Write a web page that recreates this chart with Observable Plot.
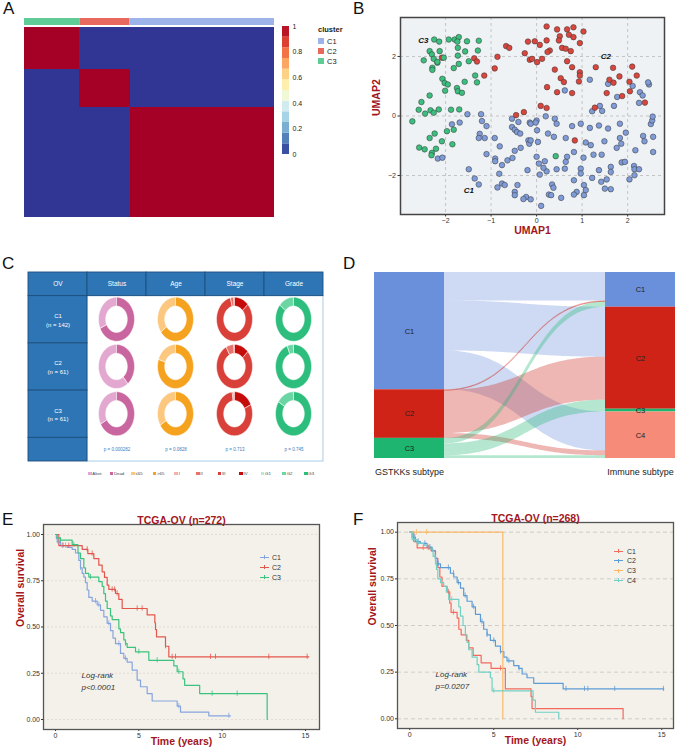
<!DOCTYPE html>
<html><head><meta charset="utf-8">
<script src="https://cdn.jsdelivr.net/npm/d3@7"></script>
<script src="https://cdn.jsdelivr.net/npm/@observablehq/plot@0.6"></script>
<style>
body{margin:0;background:#fff;font-family:"Liberation Sans",Arial,sans-serif;}
#root{position:relative;width:676px;height:750px;overflow:hidden;background:#fff;}
.plab{position:absolute;font-size:17px;line-height:17px;color:#111;}
</style></head><body><div id="root"></div>
<script>
// ================= DATA =================
// Panel A: consensus matrix (column / row order), cluster sizes
const hmClusters = ["C3", "C2", "C1"];
const hmSizes = [84, 76, 219];
const annotColors = ["#5FCB96", "#E8685E", "#9DB4EA"];
const legendClusters = ["C1", "C2", "C3"];
const legendClusterColors = ["#9DB4EA", "#E8685E", "#5FCB96"];
const colorbarTicks = [0, 0.2, 0.4, 0.6, 0.8, 1];

// Panel B: UMAP coordinates
const umapC3 = [[-2.25,2.57],[-2.14,2.50],[-1.93,2.57],[-1.80,2.57],[-1.71,2.65],[-1.74,2.50],[-1.53,2.51],[-1.27,2.53],[-2.35,2.18],[-2.13,2.18],[-2.30,2.07],[-2.26,1.92],[-2.04,1.96],[-2.18,1.79],[-2.48,1.87],[-2.29,1.62],[-2.29,1.55],[-1.73,2.29],[-1.57,2.17],[-1.29,2.20],[-1.73,2.03],[-1.49,1.84],[-1.71,1.75],[-1.82,1.61],[-1.35,1.36],[-1.31,1.13],[-1.58,1.15],[-2.07,1.25],[-2.02,1.11],[-1.95,1.06],[-2.01,0.85],[-1.75,0.94],[-1.73,0.83],[-1.64,0.78],[-2.35,0.69],[-2.53,0.47],[-2.59,0.21],[-2.45,0.08],[-2.33,0.19],[-2.26,0.11],[-2.15,0.22],[-1.88,0.21],[-1.70,0.22],[-2.73,-0.18],[-2.24,-0.59],[-2.35,-0.74],[-1.97,-0.51],[-1.82,-0.46],[-2.08,-0.85],[-1.85,-0.95],[-2.58,-1.06],[-2.46,-1.12],[-2.21,-1.10],[-2.30,-1.24],[-2.31,-1.32],[-2.18,1.82],[0.42,-1.35]];
const umapC2 = [[-1.37,1.94],[-1.31,1.83],[-2.08,1.96],[-1.15,1.36],[-0.92,1.60],[-0.86,1.99],[-0.67,2.35],[-0.60,2.29],[-0.26,2.11],[-0.19,2.50],[-0.45,0.03],[-0.28,0.13],[-0.15,1.89],[0.22,3.01],[0.45,2.91],[0.67,2.91],[0.81,2.98],[1.03,2.84],[0.51,2.68],[0.71,2.73],[0.81,2.65],[-0.04,2.51],[0.22,2.54],[0.49,2.54],[0.95,2.45],[0.07,2.39],[0.56,2.29],[0.64,2.26],[0.75,2.18],[0.29,2.20],[0.24,2.15],[0.12,1.92],[0.01,1.81],[-0.10,1.92],[0.67,1.84],[0.78,1.64],[0.40,1.56],[0.95,1.47],[0.95,1.36],[0.53,1.27],[0.60,1.14],[0.93,1.16],[0.23,0.97],[0.45,0.80],[0.78,0.77],[1.30,1.64],[1.68,1.62],[2.10,1.66],[2.20,1.36],[1.82,1.33],[1.60,1.22],[1.69,1.12],[2.04,1.15],[2.05,0.83],[1.88,0.67],[1.54,0.77],[1.28,0.28],[2.38,0.45],[0.09,0.34],[0.22,0.27],[0.84,-0.82]];
const umapC1 = [[-1.52,0.06],[-1.22,0.06],[-1.20,-0.17],[-1.10,-0.34],[-1.86,-0.28],[-1.69,-0.22],[-1.25,-0.60],[-1.27,-0.74],[-1.14,-0.74],[-0.92,-0.74],[-0.81,-1.02],[-1.10,-1.28],[-0.91,-1.43],[-0.91,-1.52],[-1.49,-1.79],[-2.17,-1.43],[-2.07,-1.40],[-1.36,-2.10],[-1.27,-2.30],[-0.82,-1.94],[-0.76,-1.65],[-0.64,-1.49],[-0.53,-1.41],[-0.48,-1.17],[-0.35,-1.07],[-0.20,-1.82],[-0.86,-2.40],[-0.76,-2.27],[-0.70,-2.32],[-0.48,-2.55],[-0.48,-2.66],[-0.42,-2.32],[-0.23,-2.72],[-0.29,-2.79],[-0.54,-0.09],[-0.54,-0.37],[-0.48,-0.46],[-0.43,-0.54],[-0.36,-0.59],[-0.40,-0.20],[-0.18,-0.82],[-0.16,-0.93],[-0.15,-0.22],[-0.13,-0.26],[0.00,-0.15],[0.20,-0.01],[0.40,-0.09],[0.44,-0.26],[-0.02,-0.22],[0.78,-0.34],[0.97,-0.26],[1.17,-0.40],[1.37,-0.32],[1.57,-0.42],[1.83,-0.26],[1.96,-0.56],[1.83,-0.74],[1.49,-0.85],[1.76,-1.07],[1.86,-0.93],[2.17,-1.15],[2.34,-0.67],[2.37,-0.85],[2.56,-1.21],[2.56,-0.70],[2.51,-0.27],[2.54,-0.15],[2.55,-0.02],[2.27,0.80],[2.33,0.69],[2.25,0.44],[2.47,1.06],[2.45,1.13],[2.11,1.01],[1.77,0.64],[1.70,0.34],[1.44,0.17],[1.39,0.34],[1.22,0.16],[1.57,1.08],[1.17,1.22],[0.62,0.86],[0.25,-0.59],[0.38,-0.70],[0.03,-0.87],[0.64,-0.74],[1.08,-0.89],[1.19,-0.98],[0.82,-1.21],[0.67,-1.37],[0.64,-1.54],[0.62,-1.77],[1.03,-1.40],[1.25,-1.30],[1.43,-1.30],[1.63,-1.71],[1.87,-1.56],[1.94,-1.54],[1.63,-1.88],[2.14,-1.68],[2.15,-1.79],[2.25,-1.79],[2.15,-1.99],[2.04,-2.13],[1.37,-1.82],[1.22,-2.08],[0.97,-1.77],[0.97,-1.93],[0.82,-2.16],[1.04,-2.32],[1.08,-2.49],[1.42,-2.21],[1.54,-2.13],[1.50,-2.44],[1.63,-2.46],[1.04,-2.66],[0.88,-2.55],[0.82,-2.64],[0.54,-2.75],[0.34,-2.30],[0.37,-2.41],[0.27,-2.64],[0.32,-2.66],[0.10,-3.02],[0.44,-1.79],[0.07,-1.97],[0.22,-1.86],[0.15,-1.74],[0.05,-1.60],[0.18,-1.52],[0.00,-1.37],[-0.13,-2.80],[-0.13,-0.82],[0.01,-0.48]];
const umapColors = ["#7F9BD8", "#D9463D", "#3BBE7E"];
const umapTicksX = [-2, -1, 0, 1, 2];
const umapTicksY = [-2, 0, 2];
const umapLabels = ["C1", "C2", "C3"];
const umapLabelX = [-1.49, 1.52, -2.49];
const umapLabelY = [-2.50, 2.00, 2.53];

// Panel C: clinical table
const tableCols = ["OV", "Status", "Age", "Stage", "Grade"];
const groups = ["C1", "C2", "C3"];
const groupN = [142, 61, 61];
const pValues = ["p = 0.000282", "p = 0.0828", "p = 0.713", "p = 0.745"];
const statusLevels = ["Alive", "Dead"];
const statusColors = ["#E3A8D0", "#C9669F"];
const statusFrac = [[0.32, 0.68], [0.61, 0.39], [0.33, 0.67]];
const ageLevels = ["≤65", ">65"];
const ageColors = ["#FCC77E", "#F5A21F"];
const ageFrac = [[0.35, 0.65], [0.20, 0.80], [0.34, 0.66]];
const stageLevels = ["I", "II", "III", "IV"];
const stageColors = ["#F2B1AC", "#E8736D", "#D9403A", "#C60C0A"];
const stageFrac = [[0.01, 0.03, 0.83, 0.13], [0.01, 0.07, 0.79, 0.13], [0.01, 0.015, 0.795, 0.18]];
const gradeLevels = ["G1", "G2", "G3"];
const gradeColors = ["#B5EBD0", "#6BD5A3", "#2DBE7E"];
const gradeFrac = [[0.005, 0.135, 0.86], [0.005, 0.055, 0.94], [0.005, 0.155, 0.84]];

// Panel D: alluvial flows
const sankeyLeft = ["C1", "C2", "C3"];
const sankeyRight = ["C1", "C2", "C3", "C4"];
const sankeyColors = {C1: "#6A8FDB", C2: "#CF2318", C3: "#1DB56F", C4: "#F68B79"};
const flowFrom = ["C1", "C1", "C1", "C2", "C2", "C2", "C3", "C3", "C3", "C3"];
const flowTo   = ["C1", "C2", "C4", "C1", "C2", "C4", "C1", "C2", "C3", "C4"];
const flowN    = [41, 72, 56, 1, 62, 7, 8, 13, 4, 4];

// Panel E: KM curves, TCGA-OV (n=272), GSTKKs subtypes
const eNames = ["C1", "C2", "C3"];
const eColors = ["#86A5E0", "#E2574C", "#39C37F"];
const eTime = [
  [0,0.05,0.1,0.3,0.7,1.0,1.2,1.4,1.5,1.6,1.7,1.8,1.9,2.0,2.2,2.5,2.7,2.9,3.1,3.3,3.45,3.6,3.9,4.1,4.3,4.6,4.9,5.1,5.5,5.8,7.3,7.5,9.2,10.5],
  [0,0.2,1.6,1.94,2.3,2.6,2.8,2.94,3.1,3.2,3.6,3.8,4.0,5.5,5.96,6.0,6.06,6.6,6.8,15.2],
  [0,0.1,0.3,1.0,1.35,1.5,1.7,1.8,2.0,2.6,2.8,2.9,3.0,3.1,3.3,3.4,3.8,3.9,4.1,4.2,4.3,4.8,5.6,7.1,7.3,7.65,7.75,8.65,12.7,12.7]
];
const eSurv = [
  [1,0.98,0.96,0.94,0.93,0.92,0.90,0.86,0.82,0.79,0.77,0.74,0.70,0.66,0.64,0.62,0.59,0.555,0.52,0.48,0.44,0.41,0.357,0.33,0.31,0.267,0.213,0.177,0.14,0.10,0.072,0.04,0.02,0.02],
  [1,0.94,0.92,0.897,0.87,0.834,0.798,0.768,0.726,0.703,0.681,0.649,0.60,0.565,0.523,0.486,0.447,0.396,0.339,0.339],
  [1,0.98,0.97,0.945,0.90,0.87,0.82,0.79,0.77,0.745,0.72,0.68,0.64,0.60,0.56,0.54,0.49,0.47,0.43,0.41,0.39,0.366,0.32,0.29,0.258,0.22,0.185,0.14,0.14,0]
];
const eCensor = [
  [0.15,0.4,0.6,1.5,2.4,2.6,3.2,3.8,4.2,7.4,10.4],
  [0.45,0.8,1.9,2.2,3.4,3.55,3.7,4.9,5.2,6.6,7.0,7.2,9.3,9.6,12.8,15.1],
  [0.3,1.1,2.1,4.2,5.0,6.1,7.4,9.4,10.9]
];

// Panel F: KM curves, TCGA-OV (n=268), immune subtypes
const fNames = ["C1", "C2", "C3", "C4"];
const fColors = ["#F4695E", "#5C9CD6", "#F9B866", "#72D0C4"];
const fTime = [
  [0,0.24,0.44,1.27,1.53,1.67,1.79,1.92,2.22,2.38,2.46,2.82,2.92,3.06,3.37,3.51,3.77,4.25,4.84,5.69,7.22,7.28,12.7,12.7],
  [0,0.14,0.34,0.63,1.03,1.33,1.53,1.63,1.83,2.42,2.62,2.82,3.02,3.21,3.41,3.71,3.91,4.21,4.40,4.60,4.80,5.10,5.40,5.60,5.79,6.19,6.49,6.69,6.98,7.38,9.13,15.12],
  [0,5.54,5.54],
  [0,0.14,0.44,0.83,1.13,1.39,1.53,1.59,1.67,1.83,2.02,2.18,2.32,2.92,3.02,3.17,3.31,3.41,3.51,3.71,4.01,4.11,4.80,4.90,7.34,7.48,8.87,8.87]
];
const fSurv = [
  [1,0.95,0.916,0.90,0.86,0.81,0.76,0.71,0.68,0.62,0.57,0.54,0.48,0.45,0.42,0.38,0.34,0.30,0.27,0.16,0.12,0.055,0.055,0],
  [1,0.973,0.95,0.94,0.92,0.90,0.86,0.83,0.81,0.78,0.76,0.73,0.70,0.66,0.63,0.60,0.56,0.52,0.48,0.45,0.42,0.39,0.36,0.33,0.31,0.285,0.27,0.24,0.22,0.19,0.16,0.16],
  [1,1,0],
  [1,0.96,0.94,0.93,0.91,0.87,0.83,0.80,0.75,0.73,0.71,0.68,0.64,0.60,0.55,0.50,0.45,0.41,0.37,0.33,0.29,0.25,0.22,0.15,0.10,0.035,0.035,0]
];
const fCensor = [
  [0.8,1.1,2.3,2.6,5.4],
  [0.3,0.5,0.9,1.2,1.7,2.3,2.6,2.9,3.3,3.8,4.3,4.6,5.0,5.4,5.9,6.5,9.3,10.4,10.6,12.2,15.1],
  [0.4,1.0],
  [0.3,0.5,1.5,2.5,5.0]
];
const kmTicksX = [0, 5, 10, 15];
const kmTicksY = [0, 0.25, 0.5, 0.75, 1];

// ================= RENDER =================
const root = document.getElementById("root");
const FONT = "'Liberation Sans', Arial, sans-serif";
const DARKRED = "#A3161C";
function place(node, left, top) {
  const d = document.createElement("div");
  d.style.cssText = `position:absolute;left:${left}px;top:${top}px;`;
  d.appendChild(node);
  root.appendChild(d);
  return d;
}
function st(extra) { return Object.assign({background: "transparent", fontFamily: FONT, overflow: "visible"}, extra || {}); }
function html(tag, css, text) { const e = document.createElement(tag); e.style.cssText = css; if (text != null) e.textContent = text; return e; }

// panel letters
[["A",3,0],["B",353,0],["C",2,255],["D",343,255],["E",2,511],["F",353,511]].forEach(([t,x,y]) => {
  const e = html("div", `left:${x}px;top:${y}px;`, t); e.className = "plab"; root.appendChild(e);
});

// ---------- Panel A ----------
const hmTotal = d3.sum(hmSizes);
const hmOff = [0]; hmSizes.forEach(s => hmOff.push(hmOff[hmOff.length - 1] + s));
const hmBlocks = hmClusters.map((c, i) => ({c, start: hmOff[i], end: hmOff[i + 1], col: annotColors[i]}));
const hmCells = hmBlocks.flatMap(r => hmBlocks.map(cc => ({x1: cc.start, x2: cc.end, y1: r.start, y2: r.end, v: r.c === cc.c ? 1 : 0})));
place(Plot.plot({
  width: 300, height: 225, marginLeft: 24, marginRight: 26, marginTop: 27, marginBottom: 8,
  x: {domain: [0, hmTotal], axis: null}, y: {domain: [0, hmTotal], reverse: true, axis: null},
  color: {type: "linear", scheme: "RdYlBu", reverse: true, domain: [0, 1]},
  style: st(),
  marks: [Plot.rect(hmCells, {x1: "x1", x2: "x2", y1: "y1", y2: "y2", fill: "v", shapeRendering: "crispEdges"})]
}), 0, 0);
place(Plot.plot({
  width: 300, height: 7, marginLeft: 24, marginRight: 26, marginTop: 0, marginBottom: 0,
  x: {domain: [0, hmTotal], axis: null}, color: {type: "identity"}, style: st(),
  marks: [Plot.rect(hmBlocks, {x1: "start", x2: "end", fill: "col"})]
}), 0, 18);
const cbBins = d3.range(12).map(i => ({lo: i / 12, hi: (i + 1) / 12}));
place(Plot.plot({
  width: 40, height: 134, marginTop: 6, marginBottom: 0, marginLeft: 4, marginRight: 29,
  y: {domain: [0, 1], axis: "right", ticks: colorbarTicks, tickSize: 0, tickPadding: 3, tickFormat: d => String(d), label: null},
  x: {axis: null},
  color: {type: "linear", scheme: "RdYlBu", reverse: true, domain: [0, 1]},
  style: st({fontSize: "7px", color: "#222"}),
  marks: [Plot.rect(cbBins, {y1: "lo", y2: "hi", fill: d => (d.lo + d.hi) / 2})]
}), 278, 20);
root.appendChild(html("div", "position:absolute;left:318px;top:25px;font-size:7.5px;font-weight:bold;color:#222;", "cluster"));
legendClusters.forEach((c, i) => {
  root.appendChild(html("div", `position:absolute;left:318px;top:${38 + i * 10}px;width:6px;height:6px;background:${legendClusterColors[i]};`));
  root.appendChild(html("div", `position:absolute;left:327px;top:${36.5 + i * 10}px;font-size:7.5px;line-height:9px;color:#222;`, c));
});

// ---------- Panel B ----------
const umapPts = [
  ...umapC1.map(p => ({x: p[0], y: p[1], k: "C1"})),
  ...umapC2.map(p => ({x: p[0], y: p[1], k: "C2"})),
  ...umapC3.map(p => ({x: p[0], y: p[1], k: "C3"}))
];
const umapLab = umapLabels.map((t, i) => ({t, x: umapLabelX[i], y: umapLabelY[i]}));
place(Plot.plot({
  width: 336, height: 240, marginLeft: 60, marginRight: 12, marginTop: 17, marginBottom: 26,
  x: {domain: [-2.99, 2.81], ticks: umapTicksX, tickSize: 2.5, tickPadding: 1, tickFormat: d3.format("d"), label: null},
  y: {domain: [-3.31, 3.31], ticks: umapTicksY, tickSize: 2.5, tickPadding: 2, tickFormat: d3.format("d"), label: null},
  color: {domain: ["C1", "C2", "C3"], range: umapColors},
  style: st({fontSize: "7px", color: "#333"}),
  marks: [
    Plot.frame({fill: "#EEF2F5"}),
    Plot.ruleX(umapTicksX, {stroke: "#C4C4C4", strokeDasharray: "3,3"}),
    Plot.ruleY(umapTicksY, {stroke: "#C4C4C4", strokeDasharray: "3,3"}),
    Plot.dot(umapPts, {x: "x", y: "y", fill: "k", r: 2.8, stroke: "#333", strokeWidth: 0.5, fillOpacity: 1}),
    Plot.text(umapLab, {x: "x", y: "y", text: "t", fontWeight: "bold", fontStyle: "italic", fontSize: 8, fill: "#111"}),
    Plot.frame({stroke: "#444", strokeWidth: 1.5}),
    Plot.text(["UMAP1"], {frameAnchor: "bottom", dy: 19.5, fontWeight: "bold", fontSize: 10.5, fill: DARKRED}),
    Plot.text(["UMAP2"], {frameAnchor: "left", dx: -24, rotate: -90, fontWeight: "bold", fontSize: 10.5, fill: DARKRED})
  ]
}), 340, 0);

// ---------- Panel C ----------
const HDR = 0.4, ROW = 0.8, PROW = 0.4;
const RX = 18 / 59, RY = 22 / 59, INNER = 0.6;
const vars = [
  {levels: statusLevels, colors: statusColors, frac: statusFrac},
  {levels: ageLevels, colors: ageColors, frac: ageFrac},
  {levels: stageLevels, colors: stageColors, frac: stageFrac},
  {levels: gradeLevels, colors: gradeColors, frac: gradeFrac}
];
const slices = [];
vars.forEach((v, j) => {
  groups.forEach((g, i) => {
    const cx = j + 1.5, cy = HDR + ROW * i + ROW / 2;
    let cum = 0;
    v.frac[i].forEach((f, k) => {
      const a0 = 2 * Math.PI * cum, a1 = 2 * Math.PI * (cum + f);
      cum += f;
      const n = Math.max(3, Math.ceil(f * 120));
      for (let q = 0; q <= n; q++) {
        const th = a0 + (a1 - a0) * q / n;
        slices.push({key: `${j}-${i}-${k}`, fill: v.colors[k],
          xo: cx - RX * Math.sin(th), yo: cy - RY * Math.cos(th),
          xi: cx - INNER * RX * Math.sin(th), yi: cy - INNER * RY * Math.cos(th)});
      }
    });
  });
});
const yMax = HDR + ROW * groups.length + PROW;
const hdrCells = tableCols.map((c, i) => ({x1: i, x2: i + 1, y1: 0, y2: HDR, t: c}));
const rowCells = groups.map((g, i) => ({x1: 0, x2: 1, y1: HDR + ROW * i, y2: HDR + ROW * (i + 1), t: `${g}\n(n = ${groupN[i]})`}));
rowCells.push({x1: 0, x2: 1, y1: HDR + ROW * groups.length, y2: yMax, t: ""});
const pCells = pValues.map((p, j) => ({x: j + 1.5, y: yMax - PROW / 2, t: p}));
place(Plot.plot({
  width: 340, height: 240, marginLeft: 28, marginRight: 17, marginTop: 22, marginBottom: 29,
  x: {domain: [0, tableCols.length], axis: null},
  y: {domain: [0, yMax], reverse: true, axis: null},
  color: {type: "identity"},
  style: st(),
  marks: [
    Plot.rect([{x1: 1, x2: tableCols.length, y1: HDR, y2: yMax}], {x1: "x1", x2: "x2", y1: "y1", y2: "y2", fill: "white", stroke: "#A9CBE8", strokeWidth: 1}),
    Plot.rect(hdrCells, {x1: "x1", x2: "x2", y1: "y1", y2: "y2", fill: "#2E75B6", stroke: "#1E4F7C", strokeWidth: 0.9}),
    Plot.rect(rowCells, {x1: "x1", x2: "x2", y1: "y1", y2: "y2", fill: "#2E75B6", stroke: "#1E4F7C", strokeWidth: 0.9}),
    Plot.text(hdrCells, {x: d => (d.x1 + d.x2) / 2, y: d => (d.y1 + d.y2) / 2, text: "t", fill: "white", fontSize: 6.5}),
    Plot.text(rowCells, {x: d => (d.x1 + d.x2) / 2, y: d => (d.y1 + d.y2) / 2, text: "t", fill: "white", fontSize: 6, lineHeight: 1.45}),
    Plot.area(slices, {x1: "xo", y1: "yo", x2: "xi", y2: "yi", z: "key", fill: "fill", stroke: "white", strokeWidth: 0.5, curve: "linear"}),
    Plot.text(pCells, {x: "x", y: "y", text: "t", fill: "#3A7DC0", fontSize: 4.5})
  ]
}), 0, 250);
const legItems = [];
vars.forEach(v => v.levels.forEach((l, k) => legItems.push([l, v.colors[k]])));
legItems.forEach(([l, c], i) => {
  const x = 88 + i * 21.6;
  root.appendChild(html("div", `position:absolute;left:${x}px;top:471.5px;width:3.5px;height:3.5px;background:${c};`));
  root.appendChild(html("div", `position:absolute;left:${x + 4.3}px;top:470.5px;font-size:4.3px;line-height:5px;color:#444;white-space:nowrap;`, l));
});

// ---------- Panel D ----------
const nodeW = 70 / 301;
const flows = flowN.map((n, i) => ({i, from: flowFrom[i], to: flowTo[i], n}));
let acc = 0;
const leftNodes = sankeyLeft.map(c => { const t = d3.sum(flows.filter(f => f.from === c), f => f.n); const o = {c, y1: acc, y2: acc + t, x1: 0, x2: nodeW}; acc += t; return o; });
acc = 0;
const rightNodes = sankeyRight.map(c => { const t = d3.sum(flows.filter(f => f.to === c), f => f.n); const o = {c, y1: acc, y2: acc + t, x1: 1 - nodeW, x2: 1}; acc += t; return o; });
const sTotal = acc;
const srcCur = Object.fromEntries(leftNodes.map(d => [d.c, d.y1]));
[...flows].sort((a, b) => sankeyLeft.indexOf(a.from) - sankeyLeft.indexOf(b.from) || sankeyRight.indexOf(a.to) - sankeyRight.indexOf(b.to))
  .forEach(f => { f.s0 = srcCur[f.from]; f.s1 = f.s0 + f.n; srcCur[f.from] = f.s1; });
const tgtCur = Object.fromEntries(rightNodes.map(d => [d.c, d.y1]));
[...flows].sort((a, b) => sankeyRight.indexOf(a.to) - sankeyRight.indexOf(b.to) || sankeyLeft.indexOf(a.from) - sankeyLeft.indexOf(b.from))
  .forEach(f => { f.t0 = tgtCur[f.to]; f.t1 = f.t0 + f.n; tgtCur[f.to] = f.t1; });
const ribbon = flows.flatMap(f => d3.range(61).map(k => {
  const s = k / 60, bx = 1.5 * s * (1 - s) + s * s * s, by = 3 * s * s - 2 * s * s * s;
  return {id: f.i, n: f.n, col: sankeyColors[f.from], x: nodeW + (1 - 2 * nodeW) * bx,
    y1: f.s0 + (f.t0 - f.s0) * by, y2: f.s1 + (f.t1 - f.s1) * by};
}));
const sNodes = [...leftNodes, ...rightNodes].map(d => ({...d, col: sankeyColors[d.c]}));
place(Plot.plot({
  width: 336, height: 240, marginLeft: 34, marginRight: 1, marginTop: 22, marginBottom: 32,
  x: {domain: [0, 1], axis: null}, y: {domain: [0, sTotal], reverse: true, axis: null},
  color: {type: "identity"},
  style: st(),
  marks: [
    Plot.areaY(ribbon, {x: "x", y1: "y1", y2: "y2", z: "id", fill: "col", fillOpacity: 0.33, curve: "linear"}),
    Plot.line(ribbon.filter(d => d.n <= 2), {x: "x", y: d => (d.y1 + d.y2) / 2, z: "id", stroke: "col", strokeOpacity: 0.55, strokeWidth: 0.9}),
    Plot.rect(sNodes, {x1: "x1", x2: "x2", y1: "y1", y2: "y2", fill: "col"}),
    Plot.text(sNodes, {x: d => (d.x1 + d.x2) / 2, y: d => (d.y1 + d.y2) / 2, text: "c", fontSize: 7.5, fill: "#222"}),
    Plot.text(["GSTKKs subtype"], {x: nodeW / 2, frameAnchor: "bottom", dy: 16, fontSize: 9, fill: "#222"}),
    Plot.text(["Immune subtype"], {x: 1 - nodeW / 2, frameAnchor: "bottom", dy: 16, fontSize: 9, fill: "#222"})
  ]
}), 340, 250);

// ---------- Panels E & F ----------
function survAt(times, surv, t) { let s = surv[0]; for (let i = 0; i < times.length; i++) { if (times[i] <= t) s = surv[i]; } return s; }
function km(o) {
  const pts = [], cens = [];
  o.names.forEach((g, i) => {
    o.time[i].forEach((t, k) => pts.push({g, t, s: o.surv[i][k]}));
    o.censor[i].forEach(t => cens.push({g, t, s: survAt(o.time[i], o.surv[i], t)}));
  });
  return Plot.plot({
    width: o.width, height: o.height, marginLeft: o.ml, marginRight: o.mr, marginTop: o.mt, marginBottom: o.mb,
    x: {domain: o.xdom, ticks: kmTicksX, tickSize: 2, tickPadding: 1.5, label: null},
    y: {domain: o.ydom, ticks: kmTicksY, tickSize: 2, tickPadding: 1.5, tickFormat: d3.format(".2f"), label: null},
    color: {domain: o.names, range: o.colors},
    style: st({fontSize: "7px", color: "#333"}),
    marks: [
      Plot.frame({fill: "#F4F1EA"}),
      Plot.ruleY(kmTicksY, {stroke: o.gridColor, strokeDasharray: o.gridDash, strokeWidth: 0.8}),
      Plot.line(pts, {x: "t", y: "s", z: "g", stroke: "g", curve: "step-after", strokeWidth: 1.2}),
      Plot.ruleX(cens, {x: "t", y1: d => d.s - 0.014, y2: d => d.s + 0.014, stroke: "g", strokeWidth: 0.8}),
      Plot.frame({stroke: "#555", strokeWidth: 1.3}),
      Plot.text([o.title], {frameAnchor: "top", dy: -8, fontWeight: "bold", fontSize: 10.5, fill: DARKRED}),
      Plot.text(["Time (years)"], {frameAnchor: "bottom", dy: 15, fontWeight: "bold", fontSize: 10.5, fill: DARKRED}),
      Plot.text(["Overall survival"], {frameAnchor: "left", dx: o.ylabDx, rotate: -90, fontWeight: "bold", fontSize: 10.5, fill: DARKRED}),
      Plot.text(["Log-rank"], {frameAnchor: "bottom-left", dx: 38, dy: -52, textAnchor: "start", fontStyle: "italic", fontSize: 8, fill: "#333"}),
      Plot.text([o.p], {frameAnchor: "bottom-left", dx: 38, dy: -40, textAnchor: "start", fontStyle: "italic", fontSize: 8, fill: "#333"})
    ]
  });
}
function kmLegend(names, colors, lineX, labX, y0, step) {
  names.forEach((g, i) => {
    const y = y0 + i * step;
    root.appendChild(html("div", `position:absolute;left:${lineX}px;top:${y - 0.5}px;width:9px;height:0;border-top:1px solid ${colors[i]};`));
    root.appendChild(html("div", `position:absolute;left:${lineX + 4}px;top:${y - 2}px;width:1px;height:4px;background:${colors[i]};`));
    root.appendChild(html("div", `position:absolute;left:${labX}px;top:${y - 4.5}px;font-size:7px;line-height:9px;color:#333;`, g));
  });
}
place(km({names: eNames, colors: eColors, time: eTime, surv: eSurv, censor: eCensor,
  width: 338, height: 255, ml: 43, mr: 19, mt: 29, mb: 21, xdom: [-0.72, 15.84], ydom: [-0.054, 1.054],
  title: "TCGA-OV (n=272)", p: "p<0.0001", gridColor: "#DCD8CE", gridDash: "2,2", ylabDx: -23}), 0, 495);
kmLegend(eNames, eColors, 260, 272, 557, 10);
place(km({names: fNames, colors: fColors, time: fTime, surv: fSurv, censor: fCensor,
  width: 336, height: 255, ml: 57, mr: 3, mt: 27, mb: 22, xdom: [-0.73, 15.7], ydom: [-0.052, 1.052],
  title: "TCGA-OV (n=268)", p: "p=0.0207", gridColor: "#C4C4C4", gridDash: "4,3", ylabDx: -25}), 340, 495);
kmLegend(fNames, fColors, 614, 627, 551, 9.8);
</script></body></html>
